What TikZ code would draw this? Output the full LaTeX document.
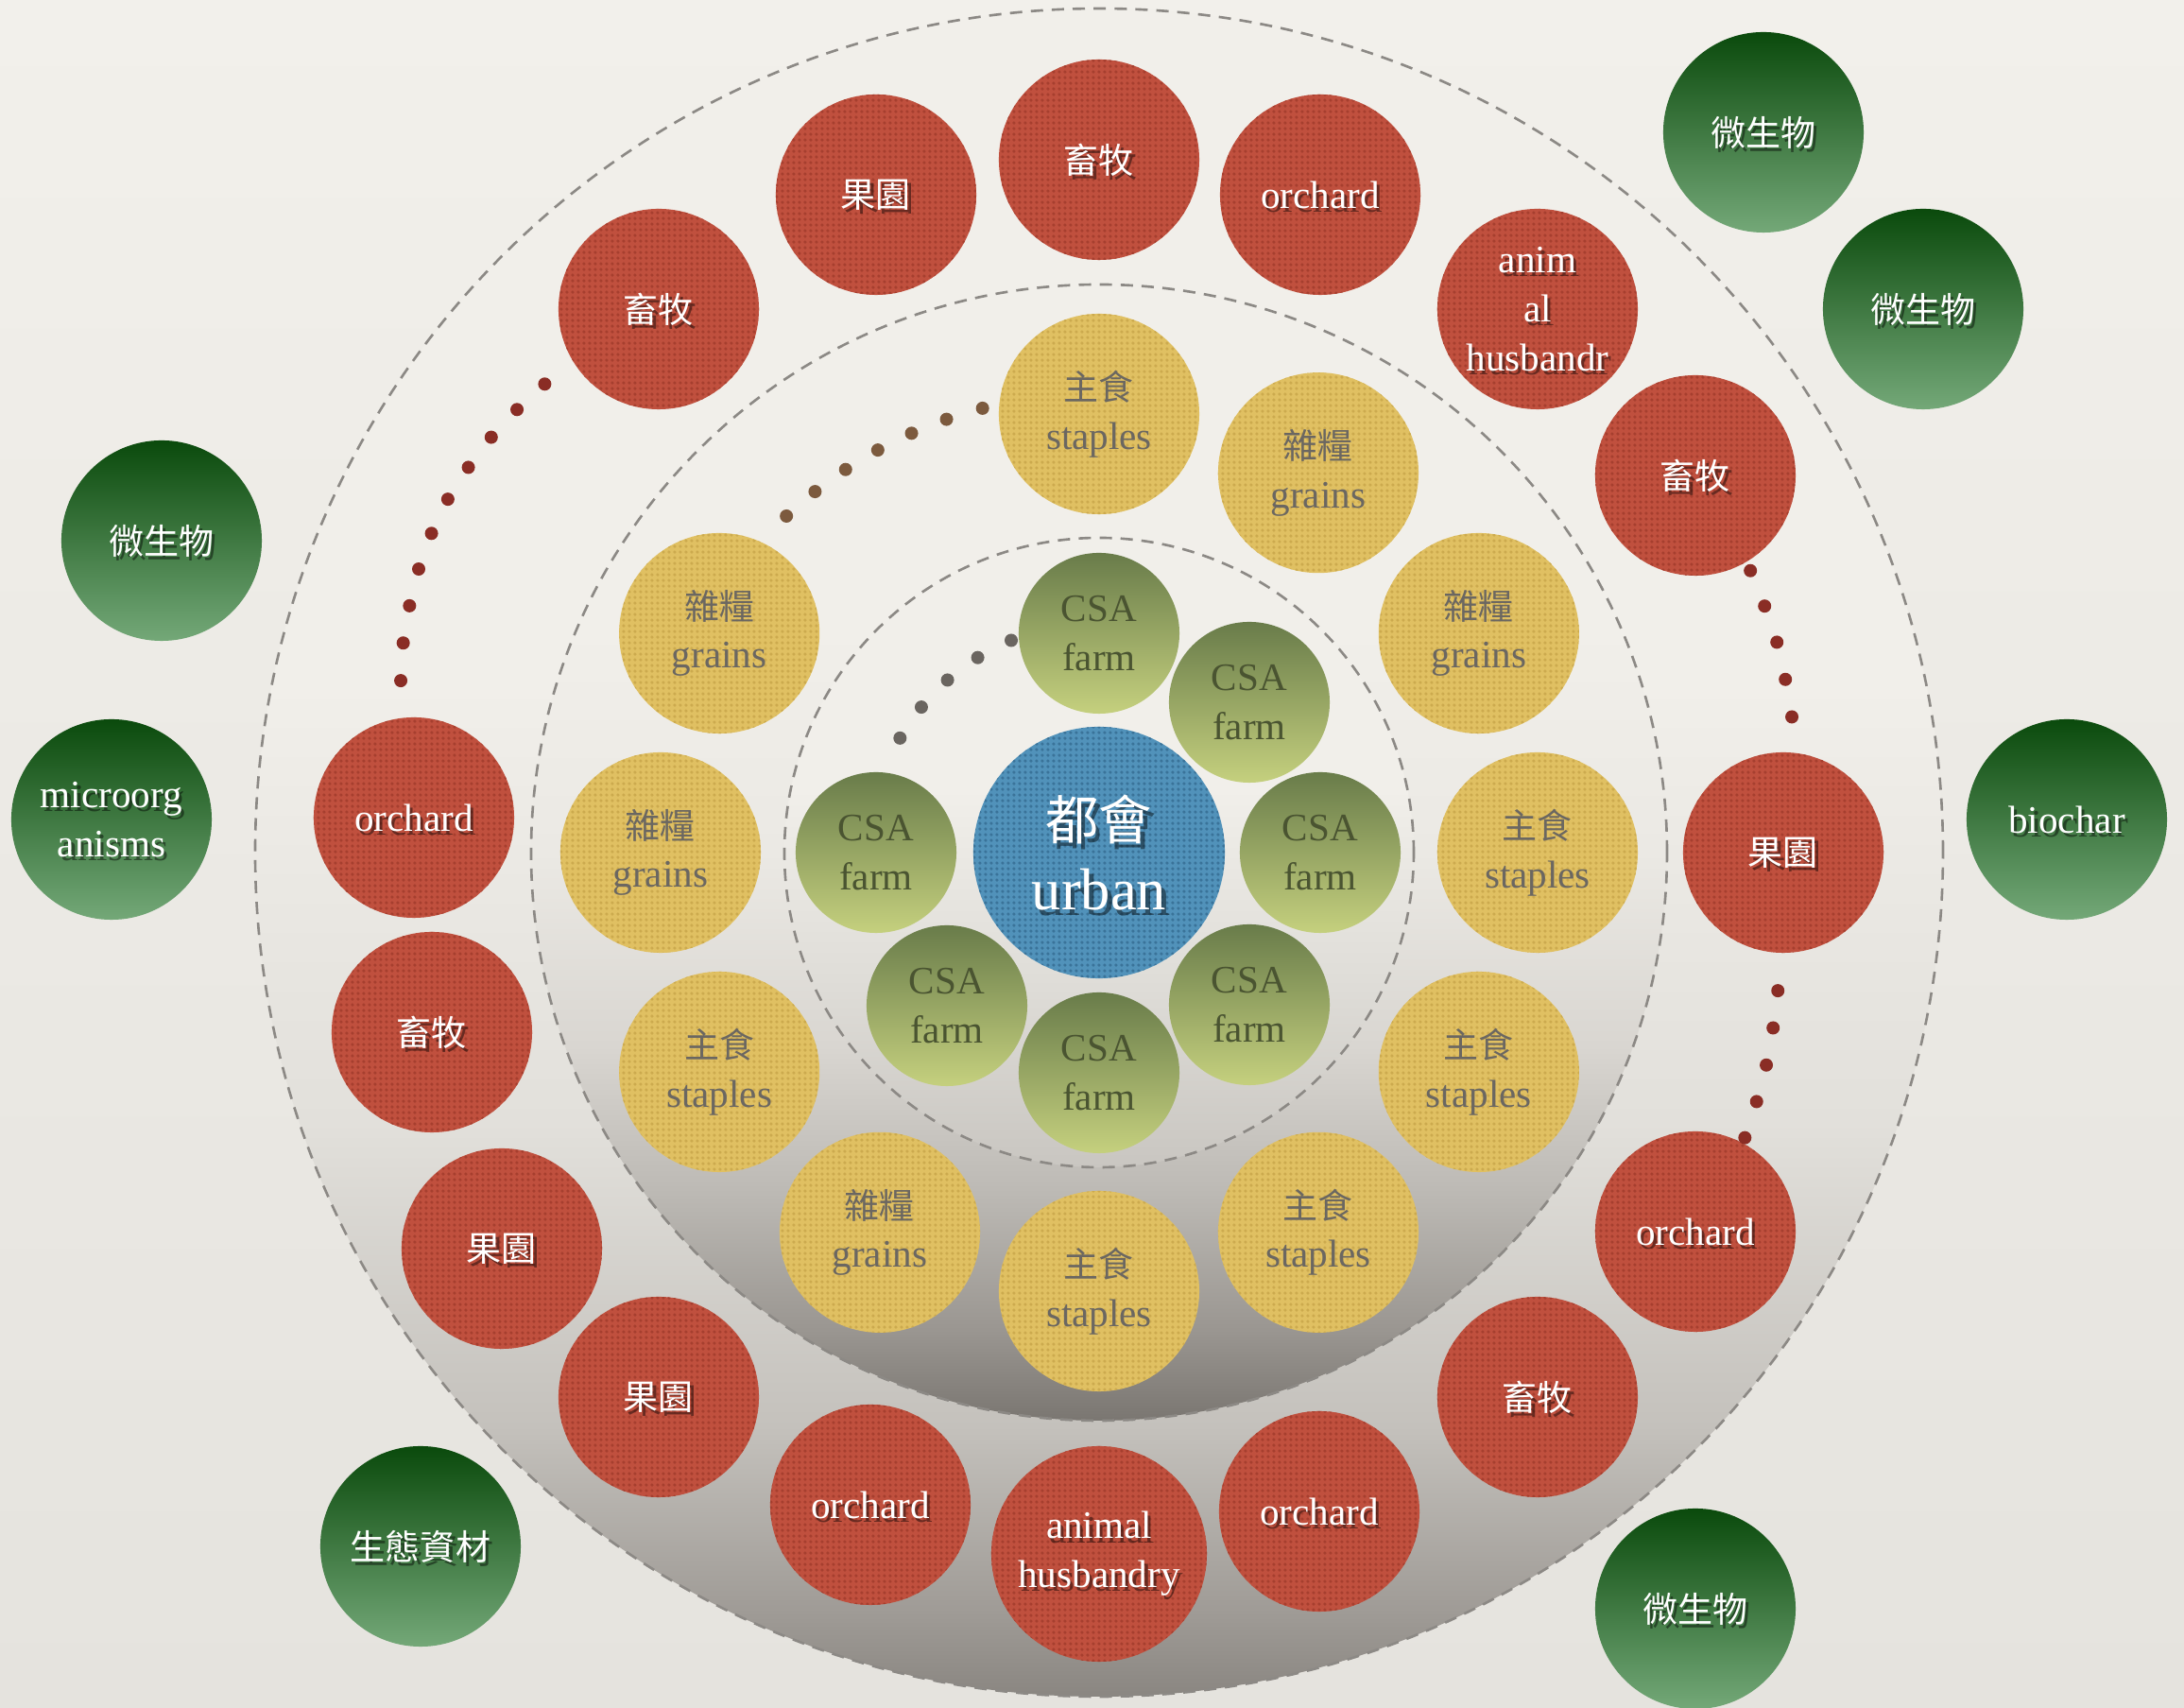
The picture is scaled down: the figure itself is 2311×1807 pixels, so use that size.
\documentclass[tikz,border=0pt]{standalone}
\usepackage{fontspec}
\setmainfont{Liberation Serif}
\newfontfamily\cjk[Scale=0.9]{Noto Sans CJK TC}
\usetikzlibrary{patterns}

\definecolor{paper}{HTML}{F1EFEA}
\definecolor{papertop}{HTML}{F2F0EB}
\definecolor{paperbot}{HTML}{E5E3DE}
\definecolor{olow}{HTML}{8A8681}
\definecolor{omid1}{HTML}{9F9B96}
\definecolor{omid2}{HTML}{C4C1BC}
\definecolor{omid3}{HTML}{E2E0DB}
\definecolor{mlow}{HTML}{7A7671}
\definecolor{mmid1}{HTML}{9A9691}
\definecolor{mmid2}{HTML}{BCB9B4}
\definecolor{mmid3}{HTML}{D9D6D1}
\definecolor{mmid4}{HTML}{EBE9E4}
\definecolor{ilow}{HTML}{C9C6C1}
\definecolor{imid}{HTML}{DFDDD8}
\definecolor{brick}{HTML}{C0503E}
\definecolor{brickdot}{HTML}{A63F2F}
\definecolor{maize}{HTML}{E0C062}
\definecolor{maizedot}{HTML}{CCAA4E}
\definecolor{sky}{HTML}{5192BA}
\definecolor{skydot}{HTML}{3A7399}
\definecolor{farmtop}{HTML}{697C4A}
\definecolor{farmbot}{HTML}{C5D07E}
\definecolor{gtop}{HTML}{0A4A0C}
\definecolor{gbot}{HTML}{74A878}
\definecolor{ytext}{HTML}{6B6761}
\definecolor{ftext}{HTML}{4A5431}
\definecolor{dashgray}{HTML}{8C8985}
\definecolor{dotgray}{HTML}{6A6560}
\definecolor{dotbrown}{HTML}{7C5A3E}
\definecolor{dotred}{HTML}{8A2D25}

% fine woven texture of the balls
\pgfdeclarepatternformonly{finegrid}{\pgfqpoint{0pt}{0pt}}{\pgfqpoint{1.7pt}{1.7pt}}{\pgfqpoint{1.7pt}{1.7pt}}{%
  \pgfpathcircle{\pgfqpoint{0.85pt}{0.85pt}}{0.5pt}\pgfusepath{fill}}

% ring fillings, dark at the bottom
\pgfdeclareverticalshading{outerfade}{100bp}{color(0bp)=(olow); color(25bp)=(olow);
  color(27.5bp)=(omid1); color(33bp)=(omid2); color(42bp)=(omid3); color(55bp)=(paper); color(100bp)=(paper)}
\pgfdeclareverticalshading{middlefade}{100bp}{color(0bp)=(mlow); color(25bp)=(mlow);
  color(29bp)=(mmid1); color(35bp)=(mmid2); color(41.5bp)=(mmid3); color(50bp)=(mmid4); color(60bp)=(paper); color(100bp)=(paper)}
\pgfdeclareverticalshading{innerfade}{100bp}{color(0bp)=(ilow); color(25bp)=(ilow);
  color(40bp)=(imid); color(55bp)=(paper); color(100bp)=(paper)}

\newcommand\zh[1]{{\cjk #1}}
\newcommand\cirfont{\fontsize{11.7}{14.7}\selectfont}
\newcommand\urbfont{\fontsize{17.8}{21}\selectfont}

\begin{document}
\begin{tikzpicture}[
    x=0.01cm, y=0.01cm,
    ball/.style={circle, inner sep=0pt, minimum size=2.12cm},
    redball/.style={ball, fill=brick, postaction={pattern=finegrid, pattern color=brickdot}},
    yellowball/.style={ball, fill=maize, postaction={pattern=finegrid, pattern color=maizedot},
                       text=ytext, align=center, font=\cirfont},
    farm/.style={ball, minimum size=1.70cm, top color=farmtop, bottom color=farmbot,
                 text=ftext, align=center, font=\cirfont},
    greenball/.style={ball, top color=gtop, bottom color=gbot},
    shadowtxt/.style={align=center, font=\cirfont, text=black, text opacity=0.45},
    whitetxt/.style={align=center, font=\cirfont, text=white},
    ringline/.style={draw=dashgray, line width=0.75pt, dash pattern=on 3.7pt off 2.6pt}]

    % Paper
    \useasboundingbox (-1163,-905) rectangle (1148,902);
    \shade[top color=papertop, bottom color=paperbot] (-1163,-905) rectangle (1148,902);

    % Rings
    \shadedraw[ringline, shading=outerfade] (0,0) circle (893);
    \shadedraw[ringline, shading=middlefade] (0,0) circle (601);
    \shadedraw[ringline, shading=innerfade] (0,0) circle (333);

    % Outer ring
    \foreach \x/\y/\txt [count=\i] in {
        0/733/{\zh{畜牧}},
        234/696/orchard,
        464/575/{anim\\al\\husbandr},
        631/399/{\zh{畜牧}},
        724/0/{\zh{果園}},
        631/-401/orchard,
        464/-576/{\zh{畜牧}},
        233/-697/orchard,
        -242/-690/orchard,
        -466/-576/{\zh{果園}},
        -632/-419/{\zh{果園}},
        -706/-190/{\zh{畜牧}},
        -725/37/orchard,
        -466/575/{\zh{畜牧}},
        -236/696/{\zh{果園}}} {
      \node[redball] (R\i) at (\x,\y) {};
      \node[shadowtxt] (Rs\i) at ([xshift=0.9pt,yshift=-1.2pt]R\i.center) {\txt};
      \node[whitetxt] (Rt\i) at (R\i) {\txt};
    }
    \node[redball, minimum size=2.28cm] (R0) at (0,-742) {};
    \node[shadowtxt] (Rs0) at ([xshift=0.9pt,yshift=-1.2pt]R0.center) {animal\\husbandry};
    \node[whitetxt] (Rt0) at (R0) {animal\\husbandry};

    % Middle ring
    \foreach \ang/\txt [count=\i] in {
        90/{\zh{主食}\\staples},
        60/{\zh{雜糧}\\grains},
        30/{\zh{雜糧}\\grains},
        0/{\zh{主食}\\staples},
        -30/{\zh{主食}\\staples},
        -60/{\zh{主食}\\staples},
        -90/{\zh{主食}\\staples},
        -120/{\zh{雜糧}\\grains},
        -150/{\zh{主食}\\staples},
        180/{\zh{雜糧}\\grains},
        150/{\zh{雜糧}\\grains}} {
      \node[yellowball] (Y\i) at (\ang:464) {\txt};
    }

    % Inner ring
    \foreach \x/\y [count=\i] in {0/232, 159/159, 234/0, 159/-161, 0/-233, -161/-162, -236/0} {
      \node[farm] (F\i) at (\x,\y) {CSA\\farm};
    }

    % Centre
    \node[ball, minimum size=2.66cm, fill=sky, postaction={pattern=finegrid, pattern color=skydot}] (U) at (0,0) {};
    \node[shadowtxt, font=\urbfont] (Us) at ([xshift=1.2pt,yshift=-1.6pt]U.center) {\zh{都會}\\urban};
    \node[whitetxt, font=\urbfont] (Ut) at (U) {\zh{都會}\\urban};

    % Outside
    \foreach \x/\y/\txt [count=\i] in {
        703/762/{\zh{微生物}},
        872/575/{\zh{微生物}},
        1024/35/biochar,
        631/-800/{\zh{微生物}},
        -718/-734/{\zh{生態資材}},
        -1045/35/{microorg\\anisms},
        -992/330/{\zh{微生物}}} {
      \node[greenball] (G\i) at (\x,\y) {};
      \node[shadowtxt] (Gs\i) at ([xshift=0.9pt,yshift=-1.2pt]G\i.center) {\txt};
      \node[whitetxt] (Gt\i) at (G\i) {\txt};
    }

    % Dotted gaps
    \foreach \k in {0,...,4}
      \fill[dotgray] ({112.5+9.4*\k}:243) circle (7);
    \foreach \k in {0,...,6}
      \fill[dotbrown] ({104.7+4.7*\k}:486) circle (7);
    \foreach \rr [count=\k from 0] in {768,774,779,782,784,783,780,775,769,761}
      \fill[dotred] ({139.8+2.93*\k}:\rr) circle (7);
    \foreach \rr [count=\k from 0] in {751,751,751,749,747}
      \fill[dotred] ({23.4-3.08*\k}:\rr) circle (7);
    \foreach \rr [count=\k from 0] in {733,737,741,744,747}
      \fill[dotred] ({-11.5-3.08*\k}:\rr) circle (7);
  \end{tikzpicture}
\end{document}
